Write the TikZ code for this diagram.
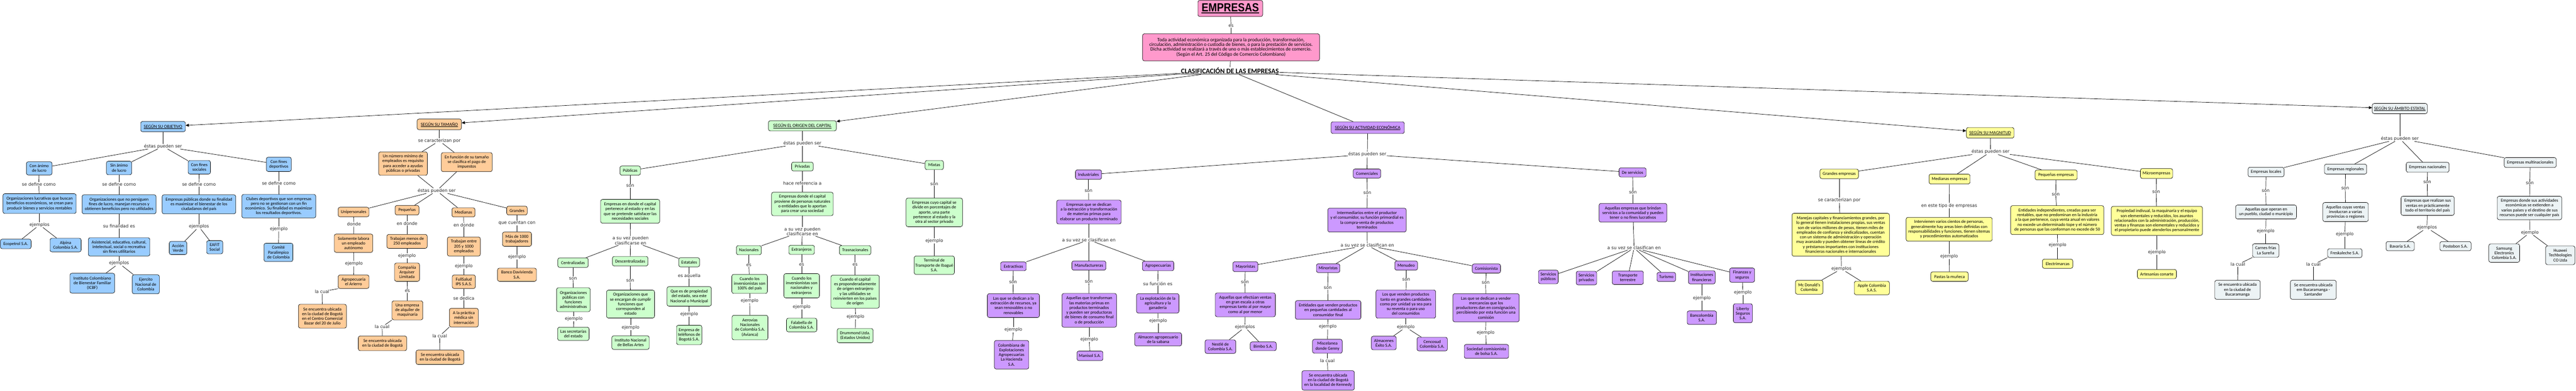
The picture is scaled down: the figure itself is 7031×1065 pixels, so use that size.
\documentclass[tikz,border=0pt]{standalone}
\usepackage{fontspec}
\setmainfont{Carlito}
\newfontfamily\lfont{DejaVu Sans}
\newfontfamily\impactf[FakeStretch=0.87]{Liberation Sans}
\usetikzlibrary{arrows.meta}
\definecolor{cpink}{RGB}{255,153,204}
\definecolor{cblue}{RGB}{153,204,255}
\definecolor{corange}{RGB}{255,204,153}
\definecolor{cgreen}{RGB}{204,255,204}
\definecolor{cpurple}{RGB}{204,153,255}
\definecolor{cyellow}{RGB}{255,255,153}
\definecolor{cgray}{RGB}{236,243,245}
\tikzset{
 bxs/.style={draw=black,line width=0.9pt,rounded corners=5pt,align=center,inner xsep=3pt,inner ysep=2pt,font=\fontsize{12}{13}\selectfont,text=black},
 pk/.style={bxs,fill=cpink},
 bl/.style={bxs,fill=cblue},
 orr/.style={bxs,fill=corange},
 gr/.style={bxs,fill=cgreen},
 pu/.style={bxs,fill=cpurple},
 ye/.style={bxs,fill=cyellow},
 gy/.style={bxs,fill=cgray},
 lbl/.style={font=\lfont\fontsize{12}{13.5}\selectfont,inner sep=1pt,text=black!85,align=center},
 cl/.style={draw=black,line width=1pt},
 ar/.style={cl,-{Triangle[length=9pt,width=8pt]}},
}
\newcommand\nbx[7]{\node[#2,minimum width=#5pt,minimum height=#6pt] (#1) at (#3,#4) {#7};}
\newcommand\lbx[4]{\node[lbl] (#1) at (#2,#3) {#4};}
\newcommand\cnx[2]{\draw[cl] (#1) -- (#2);}
\newcommand\cax[2]{\draw[ar] (#1) -- (#2);}
\newcommand\hdr[1]{\fontsize{12.5}{14}\selectfont\underline{#1}}
\begin{document}
\begin{tikzpicture}[x=1pt,y=-1pt]
\fill[white] (0,0) rectangle (7031,1065);
\path[use as bounding box] (0,0) rectangle (7031,1065);

% ---------- top ----------
\nbx{emp}{pk}{3358}{23}{177}{44}{\vbox{\hbox{\impactf\bfseries\fontsize{32}{34}\selectfont EMPRESAS}\kern1.5pt\hrule height 2.5pt}}
\lbx{les}{3360}{71}{es}
\nbx{def}{pk}{3360}{129}{483}{74}{\fontsize{13.5}{15}\selectfont Toda actividad económica organizada para la producción, transformación,\\ \fontsize{13.5}{15}\selectfont circulación, administración o custodia de bienes, o para la prestación de servicios.\\ \fontsize{13.5}{15}\selectfont Dicha actividad se realizará a través de uno o más establecimientos de comercio.\\ \fontsize{13.5}{15}\selectfont (Según el Art. 25 del Código de Comercio Colombiano)}
\node[font=\bfseries\fontsize{19}{21}\selectfont,inner sep=1pt] (clas) at (3357,193) {\underline{CLASIFICACIÓN DE LAS EMPRESAS}};
\cnx{emp}{les}\cnx{les}{def}\cnx{def}{clas}

% ---------- objetivo ----------
\nbx{obj}{bl}{445}{345}{122}{28}{\hdr{SEGÚN SU OBJETIVO}}
\lbx{ob0}{445}{399}{éstas pueden ser}
\nbx{o1}{bl}{107}{459}{70}{36}{Con ánimo\\de lucro}
\nbx{o2}{bl}{325}{458}{69}{37}{Sin ánimo\\de lucro}
\nbx{o3}{bl}{544}{456}{61}{37}{Con fines\\sociales}
\nbx{o4}{bl}{761}{448}{68}{39}{Con fines\\deportivos}
\lbx{ob1}{106}{502}{se define como}
\lbx{ob2}{325}{502}{se define como}
\lbx{ob3}{543}{503}{se define como}
\lbx{ob4}{761}{499}{se define como}
\nbx{o1d}{bl}{108}{555}{200}{54}{Organizaciones lucrativas que buscan\\beneficios económicos, se crean para\\producir bienes y servicios rentables}
\nbx{o2d}{bl}{325}{557}{202}{52}{Organizaciones que no persiguen\\fines de lucro, manejan recursos y\\obtienen beneficios pero no utilidades}
\nbx{o3d}{bl}{543}{557}{201}{52}{Empresas públicas donde su finalidad\\es maximizar el bienestar de los\\ciudadanos del país}
\nbx{o4d}{bl}{761}{562}{202}{64}{Clubes deportivos que son empresas\\pero no se gestionan con un fin\\económico. Su finalidad es maximizar\\los resultados deportivos.}
\lbx{ob5}{108}{613}{ejemplos}
\lbx{ob6}{325}{617}{su finalidad es}
\lbx{ob7}{543}{618}{ejemplos}
\lbx{ob8}{761}{624}{ejemplo}
\nbx{o1e1}{bl}{43}{665}{84}{26}{Ecopetrol S.A.}
\nbx{o1e2}{bl}{179}{668}{85}{37}{Alpina\\Colombia S.A.}
\nbx{o2f}{bl}{325}{673}{168}{50}{Asistencial, educativa, cultural,\\intelectual, social o recreativa\\sin fines utilitarios}
\nbx{o3e1}{bl}{486}{676}{48}{36}{Acción\\Verde}
\nbx{o3e2}{bl}{586}{674}{44}{36}{EAFIT\\Social}
\nbx{o4e}{bl}{760}{688}{79}{50}{Comité\\Paralímpico\\de Colombia}
\lbx{ob9}{325}{718}{ejemplos}
\nbx{o2e1}{bl}{252}{772}{122}{54}{Instituto Colombiano\\de Bienestar Familiar\\(ICBF)}
\nbx{o2e2}{bl}{398}{775}{74}{52}{Ejercito\\Nacional de\\Colombia}
\cnx{obj}{ob0}\cnx{ob0}{o1}\cnx{ob0}{o2}\cnx{ob0}{o3}\cnx{ob0}{o4}
\cnx{o1}{ob1}\cnx{ob1}{o1d}\cnx{o2}{ob2}\cnx{ob2}{o2d}\cnx{o3}{ob3}\cnx{ob3}{o3d}\cnx{o4}{ob4}\cnx{ob4}{o4d}
\cnx{o1d}{ob5}\cnx{ob5}{o1e1}\cnx{ob5}{o1e2}
\cnx{o2d}{ob6}\cnx{ob6}{o2f}\cnx{o2f}{ob9}\cnx{ob9}{o2e1}\cnx{ob9}{o2e2}
\cnx{o3d}{ob7}\cnx{ob7}{o3e1}\cnx{ob7}{o3e2}
\cnx{o4d}{ob8}\cnx{ob8}{o4e}

% ---------- tamano ----------
\nbx{tam}{orr}{1199}{339}{121}{29}{\hdr{SEGÚN SU TAMAÑO}}
\lbx{tl0}{1199}{384}{se caracterizan por}
\nbx{t1}{orr}{1100}{446}{133}{64}{Un número mínimo de\\empleados es requisito\\para acceder a ayudas\\públicas o privadas}
\nbx{t2}{orr}{1274}{442}{139}{52}{En función de su tamaño\\se clasifica el pago de\\impuestos}
\lbx{tl1}{1192}{520}{éstas pueden ser}
\nbx{tu}{orr}{965}{578}{84}{26}{Unipersonales}
\nbx{tp}{orr}{1111}{573}{65}{26}{Pequeñas}
\nbx{tm}{orr}{1265}{579}{63}{25}{Medianas}
\nbx{tg}{orr}{1411}{574}{56}{24}{Grandes}
\lbx{tl2}{966}{611}{donde}
\lbx{tl3}{1111}{609}{en donde}
\lbx{tl4}{1266}{613}{en donde}
\lbx{tl5}{1411}{608}{que cuentan con}
\nbx{tud}{orr}{965}{663}{105}{50}{Solamente labora\\un empleado\\autónomo}
\nbx{tpd}{orr}{1111}{658}{110}{38}{Trabajan menos de\\250 empleados}
\nbx{tmd}{orr}{1266}{672}{90}{52}{Trabajan entre\\205 y 1000\\empleados}
\nbx{tgd}{orr}{1411}{652}{79}{39}{Más de 1000\\trabajadores}
\lbx{tl6}{966}{719}{ejemplo}
\lbx{tl7}{1111}{698}{ejemplo}
\lbx{tl8}{1266}{726}{ejemplo}
\lbx{tl9}{1411}{701}{ejemplo}
\nbx{tue}{orr}{965}{768}{84}{37}{Agropecuaria\\el Arierro}
\nbx{tpe}{orr}{1111}{742}{68}{50}{Compañia\\Arquiser\\Limitada}
\nbx{tme}{orr}{1266}{768}{63}{37}{FullSalud\\IPS S.A.S.}
\nbx{tge}{orr}{1411}{749}{106}{36}{Banco Davivienda\\S.A.}
\lbx{tl10}{879}{795}{la cual}
\nbx{tuf}{orr}{880}{862}{131}{65}{Se encuentra ubicada\\en la ciudad de Bogotá\\en el Centro Comercial\\Bazar del 20 de Julio}
\lbx{tl11}{1112}{794}{es}
\nbx{tpf}{orr}{1112}{846}{84}{52}{Una empresa\\de alquiler de\\maquinaria}
\lbx{tl12}{1266}{813}{se dedica}
\nbx{tmf}{orr}{1266}{866}{79}{51}{A la práctica\\médica sin\\internación}
\lbx{tl13}{1043}{891}{la cual}
\nbx{tpg}{orr}{1044}{936}{132}{40}{Se encuentra ubicada\\en la ciudad de Bogotá}
\lbx{tl14}{1200}{916}{la cual}
\nbx{tmg}{orr}{1201}{974}{131}{39}{Se encuentra ubicada\\en la ciudad de Bogotá}
\cnx{tam}{tl0}\cnx{tl0}{t1}\cnx{tl0}{t2}\cnx{t1}{tl1}\cnx{t2}{tl1}
\cnx{tl1}{tu}\cnx{tl1}{tp}\cnx{tl1}{tm}\cnx{tl1}{tg}
\cnx{tu}{tl2}\cnx{tl2}{tud}\cnx{tp}{tl3}\cnx{tl3}{tpd}\cnx{tm}{tl4}\cnx{tl4}{tmd}\cnx{tg}{tl5}\cnx{tl5}{tgd}
\cnx{tud}{tl6}\cnx{tl6}{tue}\cnx{tpd}{tl7}\cnx{tl7}{tpe}\cnx{tmd}{tl8}\cnx{tl8}{tme}\cnx{tgd}{tl9}\cnx{tl9}{tge}
\cnx{tue.south west}{tl10}\cnx{tl10}{tuf}
\cnx{tpe}{tl11}\cnx{tl11}{tpf}\cnx{tpf.south west}{tl13}\cnx{tl13}{tpg}
\cnx{tme}{tl12}\cnx{tl12}{tmf}\cnx{tmf.south west}{tl14}\cnx{tl14}{tmg}

% ---------- origen ----------
\nbx{org}{gr}{2190}{343}{185}{28}{\hdr{SEGÚN EL ORIGEN DEL CAPITAL}}
\lbx{g0}{2190}{391}{éstas pueden ser}
\nbx{gpu}{gr}{1720}{465}{56}{25}{Públicas}
\nbx{gpr}{gr}{2190}{454}{59}{24}{Privadas}
\nbx{gmx}{gr}{2550}{450}{50}{25}{Mixtas}
\lbx{g1}{1720}{507}{son}
\lbx{g2}{2190}{499}{hace referencia a}
\lbx{g3}{2550}{502}{son}
\nbx{gpud}{gr}{1720}{576}{161}{65}{Empresas en donde el capital\\pertenece al estado y en las\\que se pretende satisfacer las\\necesidades sociales}
\nbx{gprd}{gr}{2190}{556}{168}{64}{Empresas donde el capital\\proviene de personas naturales\\o entidades que lo aportan\\para crear una sociedad}
\nbx{gmxd}{gr}{2550}{579}{154}{78}{Empresas cuyo capital se\\divide en porcentajes de\\aporte, una parte\\pertenece al estado y la\\otra al sector privado}
\lbx{g4}{2550}{657}{ejemplo}
\nbx{gmxe}{gr}{2550}{723}{110}{50}{Terminal de\\Transporte de Ibagué\\S.A.}
\lbx{g5}{1721}{656}{a su vez pueden\\clasificarse en}
\lbx{g6}{2190}{631}{a su vez pueden\\clasificarse en}
\nbx{gc}{gr}{1564}{716}{83}{26}{Centralizadas}
\nbx{gd}{gr}{1720}{712}{97}{26}{Descentralizadas}
\nbx{ge}{gr}{1881}{715}{57}{25}{Estatales}
\nbx{gn}{gr}{2044}{682}{68}{25}{Nacionales}
\nbx{gx}{gr}{2188}{681}{70}{25}{Extranjeros}
\nbx{gt}{gr}{2334}{682}{86}{25}{Trasnacionales}
\lbx{g7}{1564}{759}{son}
\lbx{g8}{1720}{765}{son}
\lbx{g9}{1881}{753}{es aquella}
\lbx{g10}{2044}{723}{es}
\lbx{g11}{2188}{721}{es}
\lbx{g12}{2334}{721}{es}
\nbx{gcd}{gr}{1565}{817}{92}{65}{Organizaciones\\públicas con\\funciones\\administrativas}
\nbx{gdd}{gr}{1721}{829}{131}{76}{Organizaciones que\\se encargan de cumplir\\funciones que\\corresponden al\\estado}
\nbx{ged}{gr}{1881}{808}{121}{53}{Que es de propiedad\\del estado, sea este\\Nacional o Municipal}
\nbx{gnd}{gr}{2046}{774}{97}{52}{Cuando los\\inversionistas son\\100\% del país}
\nbx{gxd}{gr}{2188}{779}{97}{66}{Cuando los\\inversionistas son\\nacionales y\\extranjeros}
\nbx{gtd}{gr}{2334}{795}{132}{90}{Cuando el capital\\es proponderadamente\\de origen extranjero\\y las utilidades se\\reinvierten en los países\\de origen}
\lbx{g13}{1566}{869}{ejemplo}
\lbx{g14}{1721}{893}{ejemplo}
\lbx{g15}{1881}{856}{ejemplo}
\lbx{g16}{2046}{820}{ejemplo}
\lbx{g17}{2188}{837}{ejemplo}
\lbx{g18}{2335}{864}{ejemplo}
\nbx{gce}{gr}{1565}{910}{86}{36}{Las secretarías\\del estado}
\nbx{gde}{gr}{1721}{934}{102}{37}{Instituto Nacional\\de Bellas Artes}
\nbx{gee}{gr}{1881}{913}{69}{53}{Empresa de\\teléfonos de\\Bogotá S.A.}
\nbx{gne}{gr}{2047}{893}{98}{67}{Aerovías\\Nacionales\\de Colombia S.A.\\(Avianca)}
\nbx{gxe}{gr}{2188}{886}{83}{37}{Falabella de\\Colombia S.A.}
\nbx{gte}{gr}{2334}{915}{98}{39}{Drummond Ltda.\\(Estados Unidos)}
\cnx{org}{g0}\cnx{g0}{gpu}\cnx{g0}{gpr}\cnx{g0}{gmx}
\cnx{gpu}{g1}\cnx{g1}{gpud}\cnx{gpr}{g2}\cnx{g2}{gprd}\cnx{gmx}{g3}\cnx{g3}{gmxd}\cnx{gmxd}{g4}\cnx{g4}{gmxe}
\cnx{gpud}{g5}\cnx{g5}{gc}\cnx{g5}{gd}\cnx{g5}{ge}
\cnx{gprd}{g6}\cnx{g6}{gn}\cnx{g6}{gx}\cnx{g6}{gt}
\cnx{gc}{g7}\cnx{g7}{gcd}\cnx{gd}{g8}\cnx{g8}{gdd}\cnx{ge}{g9}\cnx{g9}{ged}
\cnx{gn}{g10}\cnx{g10}{gnd}\cnx{gx}{g11}\cnx{g11}{gxd}\cnx{gt}{g12}\cnx{g12}{gtd}
\cnx{gcd}{g13}\cnx{g13}{gce}\cnx{gdd}{g14}\cnx{g14}{gde}\cnx{ged}{g15}\cnx{g15}{gee}
\cnx{gnd}{g16}\cnx{g16}{gne}\cnx{gxd}{g17}\cnx{g17}{gxe}\cnx{gtd}{g18}\cnx{g18}{gte}

% ---------- actividad ----------
\nbx{act}{pu}{3733}{348}{200}{32}{\hdr{SEGÚN SU ACTIVIDAD ECONÓMICA}}
\lbx{a0}{3732}{421}{éstas pueden ser}
\nbx{ai}{pu}{2971}{476}{71}{26}{Industriales}
\nbx{ac}{pu}{3731}{473}{75}{25}{Comerciales}
\nbx{as}{pu}{4456}{470}{74}{25}{De servicios}
\lbx{al1}{2971}{521}{son}
\lbx{al2}{3732}{526}{son}
\lbx{al3}{4457}{525}{son}
\nbx{aid}{pu}{2972}{578}{176}{65}{Empresas que se dedican\\a la extracción y transformación\\de materias primas para\\elaborar un producto terminado}
\nbx{acd}{pu}{3731}{600}{214}{65}{Intermediarios entre el productor\\y el consumidor, su función primordial es\\la compra-venta de productos\\terminados}
\nbx{asd}{pu}{4457}{580}{185}{51}{Aquellas empresas que brindan\\servicios a la comunidad y pueden\\tener o no fines lucrativos}
\lbx{al4}{2972}{654}{a su vez se clasifican en}
\lbx{al5}{3732}{669}{a su vez se clasifican en}
\lbx{al6}{4460}{676}{a su vez se clasifican en}
\nbx{ax}{pu}{2766}{726}{70}{24}{Extractivas}
\nbx{am}{pu}{2972}{724}{93}{25}{Manufactureras}
\nbx{aa}{pu}{3161}{725}{86}{26}{Agropecuarias}
\lbx{al7}{2765}{770}{son}
\lbx{al8}{2972}{768}{son}
\lbx{al9}{3160}{773}{su función es}
\nbx{axd}{pu}{2766}{833}{142}{65}{Las que se dedican a la\\extracción de recursos, ya\\sean renovables o no\\renovables}
\nbx{amd}{pu}{2973}{846}{149}{92}{Aquellas que transforman\\las materias primas en\\productos terminados\\y pueden ser productoras\\de bienes de consumo final\\o de producción}
\nbx{aad}{pu}{3160}{827}{116}{53}{La explotación de la\\agricultura y la\\ganadería}
\lbx{al10}{2766}{899}{ejemplo}
\lbx{al11}{2973}{925}{ejemplo}
\lbx{al12}{3161}{875}{ejemplo}
\nbx{axe}{pu}{2761}{967}{94}{78}{Colombiana de\\Explotaciones\\Agropecuarias\\La Hacienda\\S.A.}
\nbx{ame}{pu}{2975}{970}{71}{26}{Manisol S.A.}
\nbx{aae}{pu}{3161}{925}{128}{36}{Almacen agropecuario\\de la sabana}
\nbx{amy}{pu}{3399}{727}{68}{27}{Mayoristas}
\nbx{ami}{pu}{3625}{731}{64}{24}{Minoristas}
\nbx{amn}{pu}{3838}{724}{62}{25}{Menudeo}
\nbx{aco}{pu}{4057}{732}{77}{25}{Comisionista}
\lbx{al13}{3398}{769}{son}
\lbx{al14}{3624}{785}{son}
\lbx{al15}{3838}{763}{son}
\lbx{al16}{4055}{771}{son}
\nbx{amyd}{pu}{3399}{831}{164}{65}{Aquellas que efectúan ventas\\en gran escala a otras\\empresas tanto al por mayor\\como al por menor}
\nbx{amid}{pu}{3625}{845}{179}{51}{Entidades que venden productos\\en pequeñas cantidades al\\consumidor final}
\nbx{amnd}{pu}{3837}{829}{163}{77}{Los que venden productos\\tanto en grandes cantidades\\como por unidad ya sea para\\su reventa o para uso\\del consumidos}
\nbx{acod}{pu}{4056}{839}{181}{77}{Las que se dedican a vender\\mercancías que los\\productores dan en consignación,\\percibiendo por esta función una\\comisión}
\lbx{al17}{3398}{892}{ejemplos}
\lbx{al18}{3624}{891}{ejemplo}
\lbx{al19}{3837}{892}{ejemplo}
\lbx{al20}{4055}{907}{ejemplo}
\nbx{amye1}{pu}{3331}{945}{84}{37}{Nestlé de\\Colombia S.A.}
\nbx{amye2}{pu}{3448}{944}{71}{24}{Bimbo S.A.}
\nbx{amie}{pu}{3623}{944}{81}{38}{Miscelanea\\donde Genny}
\nbx{amne1}{pu}{3777}{935}{68}{37}{Almacenes\\Éxito S.A.}
\nbx{amne2}{pu}{3909}{938}{83}{37}{Cencosud\\Colombia S.A.}
\nbx{acoe}{pu}{4057}{958}{121}{38}{Sociedad comisionista\\de bolsa S.A.}
\lbx{al21}{3623}{983}{la cual}
\nbx{amif}{pu}{3625}{1037}{143}{53}{Se encuentra ubicada\\en la ciudad de Bogotá\\en la localidad de Kennedy}
\nbx{s1}{pu}{4226}{755}{54}{37}{Servicios\\públicos}
\nbx{s2}{pu}{4330}{758}{56}{37}{Servicios\\privados}
\nbx{s3}{pu}{4443}{757}{85}{37}{Transporte\\terrestre}
\nbx{s4}{pu}{4548}{755}{51}{25}{Turismo}
\nbx{s5}{pu}{4645}{756}{73}{36}{Instituciones\\financieras}
\nbx{s6}{pu}{4755}{750}{68}{39}{Finanzas y\\seguros}
\lbx{sl5}{4645}{813}{ejemplo}
\lbx{sl6}{4757}{797}{ejemplo}
\nbx{s5e}{pu}{4645}{866}{80}{37}{Bancolombia\\S.A.}
\nbx{s6e}{pu}{4757}{854}{52}{52}{Liberty\\Seguros\\S.A.}
\cnx{act}{a0}\cnx{a0}{ai}\cnx{a0}{ac}\cnx{a0}{as}
\cnx{ai}{al1}\cnx{al1}{aid}\cnx{ac}{al2}\cnx{al2}{acd}\cnx{as}{al3}\cnx{al3}{asd}
\cnx{aid}{al4}\cnx{al4}{ax}\cnx{al4}{am}\cnx{al4}{aa}
\cnx{ax}{al7}\cnx{al7}{axd}\cnx{axd}{al10}\cnx{al10}{axe}
\cnx{am}{al8}\cnx{al8}{amd}\cnx{amd}{al11}\cnx{al11}{ame}
\cnx{aa}{al9}\cnx{al9}{aad}\cnx{aad}{al12}\cnx{al12}{aae}
\cnx{acd}{al5}\cnx{al5}{amy}\cnx{al5}{ami}\cnx{al5}{amn}\cnx{al5}{aco}
\cnx{amy}{al13}\cnx{al13}{amyd}\cnx{amyd}{al17}\cnx{al17}{amye1}\cnx{al17}{amye2}
\cnx{ami}{al14}\cnx{al14}{amid}\cnx{amid}{al18}\cnx{al18}{amie}\cnx{amie}{al21}\cnx{al21}{amif}
\cnx{amn}{al15}\cnx{al15}{amnd}\cnx{amnd}{al19}\cnx{al19}{amne1}\cnx{al19}{amne2}
\cnx{aco}{al16}\cnx{al16}{acod}\cnx{acod}{al20}\cnx{al20}{acoe}
\cnx{asd}{al6}\cnx{al6}{s1}\cnx{al6}{s2}\cnx{al6}{s3}\cnx{al6}{s4}\cnx{al6}{s5}\cnx{al6}{s6}
\cnx{s5}{sl5}\cnx{sl5}{s5e}\cnx{s6}{sl6}\cnx{sl6}{s6e}

% ---------- magnitud ----------
\nbx{mag}{ye}{5432}{362}{130}{29}{\hdr{SEGÚN SU MAGNITUD}}
\lbx{m0}{5433}{414}{éstas pueden ser}
\nbx{mg}{ye}{5020}{474}{105}{26}{Grandes empresas}
\nbx{mm}{ye}{5321}{488}{112}{27}{Medianas empresas}
\nbx{mp}{ye}{5612}{477}{115}{27}{Pequeñas empresas}
\nbx{mc}{ye}{5886}{473}{88}{27}{Microempresas}
\lbx{ml1}{5020}{546}{se caracterizan por}
\lbx{ml2}{5320}{561}{en este tipo de empresas}
\lbx{ml3}{5611}{530}{son}
\lbx{ml4}{5885}{523}{son}
\nbx{mgd}{ye}{5024}{640}{266}{117}{Manejas capitales y financiamientos grandes, por\\lo general tienen instalaciones propias, sus ventas\\son de varios millones de pesos, tienen miles de\\empleados de confianza y sindicalizados, cuentan\\con un sistema de administración y operación\\muy avanzado y pueden obtener líneas de crédito\\y préstamos importantes con instituciones\\financieras nacionales e internacionales}
\nbx{mmd}{ye}{5320}{625}{235}{65}{Intervienen varios cientos de personas,\\generalmente hay areas bien definidas con\\responsabilidades y funciones, tienen sitemas\\y procedimientos automatizados}
\nbx{mpd}{ye}{5615}{600}{254}{79}{Entidades independientes, creadas para ser\\rentables, que no predominan en la industria\\a la que pertenece, cuya venta anual en valores\\no excede un determinado tope y el número\\de personas que las conforman no excede de 50}
\nbx{mcd}{ye}{5887}{602}{249}{79}{Propiedad indivual, la maquinaría y el equipo\\son elementales y reducidos, los asuntos\\relacionados con la administración, producción,\\ventas y finanzas son elementales y reducidos y\\el propietario puede atenderlos personalmente}
\lbx{ml5}{5026}{733}{ejemplos}
\lbx{ml6}{5320}{699}{ejemplo}
\lbx{ml7}{5616}{668}{ejemplo}
\lbx{ml8}{5887}{688}{ejemplo}
\nbx{mge1}{ye}{4938}{783}{75}{38}{Mc Donald's\\Colombia}
\nbx{mge2}{ye}{5109}{785}{96}{37}{Apple Colombia\\S.A.S.}
\nbx{mme}{ye}{5321}{754}{102}{26}{Pastas la muñeca}
\nbx{mpe}{ye}{5616}{719}{83}{25}{Electrimarcas}
\nbx{mce}{ye}{5887}{747}{107}{25}{Artesanias conarte}
\cnx{mag}{m0}\cnx{m0}{mg}\cnx{m0}{mm}\cnx{m0}{mp}\cnx{m0}{mc}
\cnx{mg}{ml1}\cnx{ml1}{mgd}\cnx{mgd}{ml5}\cnx{ml5}{mge1}\cnx{ml5}{mge2}
\cnx{mm}{ml2}\cnx{ml2}{mmd}\cnx{mmd}{ml6}\cnx{ml6}{mme}
\cnx{mp}{ml3}\cnx{ml3}{mpd}\cnx{mpd}{ml7}\cnx{ml7}{mpe}
\cnx{mc}{ml4}\cnx{ml4}{mcd}\cnx{mcd}{ml8}\cnx{ml8}{mce}

% ---------- ambito ----------
\nbx{est}{gy}{6550}{296}{150}{28}{\hdr{SEGÚN SU ÁMBITO ESTATAL}}
\lbx{e0}{6550}{378}{éstas pueden ser}
\nbx{el}{gy}{6185}{469}{98}{26}{Empresas locales}
\nbx{er}{gy}{6402}{461}{115}{27}{Empresas regionales}
\nbx{en}{gy}{6626}{456}{117}{27}{Empresas nacionales}
\nbx{emu}{gy}{6906}{443}{142}{27}{Empresas multinacionales}
\lbx{el1}{6184}{521}{son}
\lbx{el2}{6401}{513}{son}
\lbx{el3}{6625}{497}{son}
\lbx{el4}{6905}{499}{son}
\nbx{eld}{gy}{6185}{578}{166}{38}{Aquellas que operan en\\un pueblo, ciudad o municipio}
\nbx{erd}{gy}{6402}{578}{124}{52}{Aquellas cuyas ventas\\involucran a varias\\provincias o regiones}
\nbx{end}{gy}{6626}{561}{145}{52}{Empresas que realizan sus\\ventas en prácticamente\\todo el territorio del país}
\nbx{emud}{gy}{6904}{567}{176}{64}{Empresas donde sus actividades\\económicas se extienden a\\varios países y el destino de sus\\recursos puede ser cualquier país}
\lbx{el5}{6184}{630}{ejemplo}
\lbx{el6}{6400}{639}{ejemplo}
\lbx{el7}{6624}{621}{ejemplos}
\lbx{el8}{6905}{634}{ejemplo}
\nbx{ele}{gy}{6184}{683}{72}{37}{Carnes frías\\La Sureña}
\nbx{ere}{gy}{6400}{690}{94}{24}{Freskaleche S.A.}
\nbx{ene1}{gy}{6551}{671}{77}{25}{Bavaria S.A.}
\nbx{ene2}{gy}{6702}{671}{85}{25}{Postobon S.A.}
\nbx{emue1}{gy}{6835}{690}{84}{50}{Samsung\\Electronics\\Colombia S.A.}
\nbx{emue2}{gy}{6988}{696}{80}{51}{Huawei\\Techbologies\\CO Ltda}
\lbx{el9}{6108}{721}{la cual}
\nbx{elf}{gy}{6107}{790}{124}{52}{Se encuentra ubicada\\en la ciudad de\\Bucaramanga}
\lbx{el10}{6314}{721}{la cual}
\nbx{erf}{gy}{6314}{790}{125}{52}{Se encuentra ubicada\\em Bucaramanga -\\Santander}
\cnx{est}{e0}\cnx{e0}{el}\cnx{e0}{er}\cnx{e0}{en}\cnx{e0}{emu}
\cnx{el}{el1}\cnx{el1}{eld}\cnx{eld}{el5}\cnx{el5}{ele}\cnx{ele.south west}{el9}\cnx{el9}{elf}
\cnx{er}{el2}\cnx{el2}{erd}\cnx{erd}{el6}\cnx{el6}{ere}\cnx{ere.south west}{el10}\cnx{el10}{erf}
\cnx{en}{el3}\cnx{el3}{end}\cnx{end}{el7}\cnx{el7}{ene1}\cnx{el7}{ene2}
\cnx{emu}{el4}\cnx{el4}{emud}\cnx{emud}{el8}\cnx{el8}{emue1}\cnx{el8}{emue2}

% ---------- main links ----------
\cax{clas}{obj}\cax{clas}{tam}\cax{clas}{org}\cnx{clas}{act}\cax{clas}{mag}\cax{clas}{est}
\end{tikzpicture}
\end{document}
